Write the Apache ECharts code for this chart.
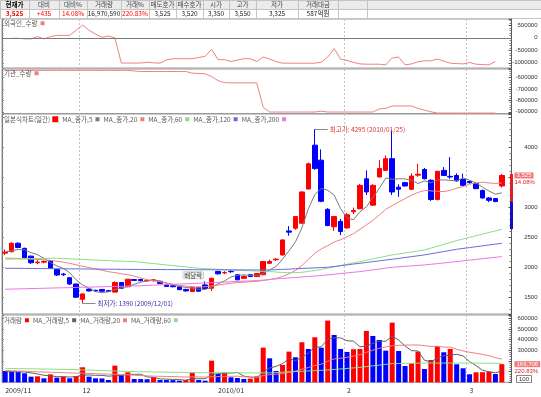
<!DOCTYPE html>
<html><head><meta charset="utf-8">
<script src="https://cdn.jsdelivr.net/npm/echarts/dist/echarts.min.js"></script>
<style>html,body{margin:0;padding:0;background:#fff}#c{width:541px;height:397px}</style>
</head><body><div id="c"></div><script>
const dates = [
'2009/11/13','2009/11/16','2009/11/17','2009/11/18','2009/11/19','2009/11/20','2009/11/23','2009/11/24','2009/11/25','2009/11/26','2009/11/27','2009/11/30',
'2009/12/01','2009/12/02','2009/12/03','2009/12/04','2009/12/07','2009/12/08','2009/12/09','2009/12/10','2009/12/11','2009/12/14','2009/12/15','2009/12/16','2009/12/17','2009/12/18','2009/12/21','2009/12/22','2009/12/23','2009/12/24','2009/12/28','2009/12/29','2009/12/30',
'2010/01/04','2010/01/05','2010/01/06','2010/01/07','2010/01/08','2010/01/11','2010/01/12','2010/01/13','2010/01/14','2010/01/15','2010/01/18','2010/01/19','2010/01/20','2010/01/21','2010/01/22','2010/01/25','2010/01/26','2010/01/27','2010/01/28','2010/01/29',
'2010/02/01','2010/02/02','2010/02/03','2010/02/04','2010/02/05','2010/02/08','2010/02/09','2010/02/10','2010/02/11','2010/02/12','2010/02/16','2010/02/17','2010/02/18','2010/02/19','2010/02/22','2010/02/23','2010/02/24','2010/02/25','2010/02/26',
'2010/03/02','2010/03/03','2010/03/04','2010/03/05','2010/03/08','2010/03/09'];

const opens = [2230,2255,2395,2310,2180,2070,2080,2105,1960,1880, 1820,1715,1460,1630,1610,1625,1605,1580,1740,1670,
 1790,1790,1765,1770,1760,1700,1685,1670,1625,1590, 1660,1700,1645,1925,1900,1925,1870,1810,1870,1840,
 1870,2060,2120,2200,2600,2645,2730,3300,4030,3780, 2960,2670,2760,2650,2920,2970,3470,3030,3500,3610,
 3805,3330,3405,3295,3530,3625,3445,3125,3610,3510, 3525,3460,3425,3390,3275,3150,3140,3350];
const highs = [2290,2410,2410,2320,2190,2115,2110,2110,1970,1900, 1830,1720,1560,1640,1620,1630,1610,1760,1745,1800,
 1800,1800,1795,1800,1765,1710,1690,1675,1635,1665, 1665,1760,1820,1935,1930,1950,1880,1860,1875,1900,
 2100,2120,2150,2460,2680,2850,3260,3740,4295,3960, 2980,2850,2800,2900,2990,3380,3610,3380,3780,3860,
 4280,3380,3420,3560,3720,3650,3460,3600,3665,3830, 3560,3555,3440,3400,3290,3160,3150,3550];
const lows = [2200,2240,2310,2140,2050,2045,2060,1970,1850,1850, 1700,1480,1390,1590,1585,1585,1580,1575,1640,1660,
 1765,1760,1755,1760,1720,1670,1660,1615,1590,1585, 1590,1630,1600,1870,1880,1900,1780,1800,1835,1835,
 1860,2050,2100,2190,2520,2620,2720,3290,3620,3080, 2680,2600,2530,2640,2880,2960,3200,3020,3490,3600,
 3200,3170,3340,3280,3500,3460,3100,3110,3520,3470, 3420,3350,3390,3300,3140,3080,3080,3325];
const closes = [2245,2395,2325,2155,2070,2080,2090,1980,1865,1870, 1715,1495,1550,1600,1600,1595,1590,1740,1645,1795,
 1775,1770,1775,1785,1725,1675,1670,1620,1600,1660, 1595,1640,1810,1885,1905,1920,1785,1840,1840,1890,
 2090,2090,2130,2450,2580,2840,3250,3720,3640,3095, 2690,2840,2590,2870,2940,3360,3250,3360,3640,3805,
 3250,3295,3350,3515,3545,3470,3125,3595,3525,3500, 3435,3360,3405,3305,3150,3110,3090,3525];

const ma5 = [2250,2270,2290,2285,2238,2205,2144,2075,2017,1977, 1904,1785,1699,1646,1592,1568,1587,1625,1654,1673,
 1709,1745,1772,1780,1766,1726,1706,1675,1658,1645, 1629,1623,1661,1718,1767,1832,1861,1867,1858,1855,
 1889,1950,2008,2130,2268,2418,2650,2968,3206,3309, 3279,3197,2971,2817,2786,2920,3002,3156,3310,3483,
 3461,3470,3468,3443,3391,3435,3401,3450,3452,3443, 3436,3483,3445,3401,3331,3266,3212,3236];
const ma20 = [2150,2145,2140,2135,2130,2125,2118,2110,2095,2080, 2060,2035,2010,1990,1965,1945,1920,1905,1885,1870,
 1847,1815,1788,1769,1752,1732,1711,1693,1680,1669, 1663,1670,1683,1698,1713,1729,1739,1744,1754,1758,
 1774,1790,1808,1841,1884,1942,2021,2126,2228,2300, 2355,2415,2454,2503,2555,2627,2700,2776,2866,2962,
 3020,3080,3141,3194,3242,3274,3268,3261,3256,3276, 3313,3339,3380,3402,3412,3400,3392,3399];
const ma60 = [2128,2130,2133,2135,2138,2140,2142,2143,2144,2140, 2135,2130,2125,2120,2115,2110,2105,2100,2096,2092,
 2089,2078,2067,2056,2045,2033,2022,2011,2000,1989, 1978,1972,1967,1961,1956,1950,1945,1940,1935,1930,
 1926,1922,1915,1908,1905,1905,1910,1925,1940,1958, 1978,2000,2022,2044,2066,2089,2111,2133,2155,2178,
 2200,2216,2233,2250,2266,2283,2314,2345,2376,2408, 2439,2466,2493,2520,2547,2574,2601,2628];
const ma120 = [1978,1977,1976,1975,1974,1973,1972,1971,1970,1969, 1968,1967,1966,1965,1964,1963,1962,1961,1960,1959,
 1958,1958,1957,1957,1956,1956,1955,1955,1954,1954, 1953,1953,1952,1952,1951,1951,1950,1950,1950,1950,
 1950,1950,1954,1959,1964,1969,1974,1979,1984,1989, 1994,2007,2021,2034,2048,2061,2074,2088,2101,2115,
 2128,2142,2157,2171,2186,2200,2219,2238,2256,2275, 2294,2308,2323,2337,2351,2366,2380,2394];
const ma200 = [1628,1631,1633,1636,1639,1641,1644,1647,1650,1652, 1655,1658,1661,1663,1666,1669,1672,1674,1677,1680,
 1683,1687,1692,1696,1701,1705,1710,1714,1719,1723, 1728,1733,1738,1743,1748,1753,1758,1763,1768,1773,
 1780,1790,1800,1808,1816,1824,1832,1840,1848,1857, 1867,1878,1889,1900,1911,1922,1936,1951,1965,1980,
 1994,2002,2010,2018,2026,2033,2044,2055,2066,2078, 2089,2101,2113,2125,2137,2149,2160,2172];

// volume in units of 100 shares
const volumes = [105900,99600,98000,84300,52800,56000,37200,74700,43400,52800, 37200,59000,140600,52800,37200,36000,21600,155900,68400,93400,
 31000,30000,29000,46800,21600,21000,20500,15300,21600,90300, 21600,15000,202700,77800,93400,46800,40600,31000,34000,56000,
 324600,224600,105900,162100,287100,234300,374900,312100,421500,324600, 577600,443300,312100,284000,309300,312100,480800,433900,396400,296400,
 558800,293300,152800,178100,287100,124600,209000,340200,281200,312100, 168700,131200,75000,93700,94500,99600,76848,169705.9];
const volMa5 = [100000,99000,98000,96000,88120,78140,65660,61000,52820,52820, 49060,53420,66600,68480,65360,65120,57640,60700,63820,75060,
 74060,75740,50360,46040,31680,29680,27780,25040,20000,33740, 33860,32760,70240,81480,82100,87140,92260,57920,49160,41680,
 97240,134040,149020,174640,220860,202800,232860,274100,325980,333480, 402140,415820,415820,388320,385260,332160,339660,364020,386500,383920,
 433260,395760,339540,295880,294020,207180,190320,227800,248420,253420, 262240,246680,193640,156140,112620,98800,87930,106871];
const volMa20 = [110000,108000,106000,104000,101000,98000,96000,94000,92000,90000, 88000,86000,85000,83000,80000,78000,76000,75000,72000,70340,
 66595,63115,59665,57790,56230,54480,53645,50675,49585,51460, 50680,48480,51585,52835,55645,56185,57135,50890,49170,47300,
 61980,71710,75555,81320,94595,105260,122980,137820,157815,169530, 197330,218745,224215,234525,245320,258585,280595,300740,318860,330880,
 342590,346025,348370,349170,349170,343685,335390,336795,329780,329155, 308710,293105,281250,271735,260995,250370,230170,216960];
const volMa60 = [130000,129000,128000,127000,126000,125000,124000,123000,122000,121000, 120000,118000,116000,114000,112000,110000,108000,106000,104000,102000,
 100000,99000,98000,97000,96000,95000,94000,93000,92000,91000, 90000,90000,89500,89000,89000,88500,88500,88000,88000,88000,
 88000,88000,91000,94000,97000,100000,103000,106000,109000,112000, 115000,120000,125000,130000,135000,140000,147000,154000,161000,168000,
 175000,176000,177000,178000,179000,180000,180000,180000,180000,180000, 180000,180000,180000,180000,179000,179000,178000,178000];

const foreign = [null,-20000,-20000,-40000,-45000,50000,-45000,50000,95000,95000,
 100000,300000,510000,300000,150000,20000,70000,0,-1010000,-1010000,
 -1010000,-1010000,-975000,-1000000,-1015000,-880000,-840000,-835000,-835000,-835000,
 -790000,-740000,-460000,-875000,-876000,-948000,-890000,-836000,-836000,-948000,
 -768000,-850000,-950000,-1016000,-1016000,-1016000,-1016000,-1016000,-1016000,-976000,
 -770000,-432000,-850000,-904000,-980000,-1044000,-1056000,-1056000,-1056000,-1084000,
 -808000,-768000,-1084000,-1044000,-960000,-920000,-920000,-848000,-930000,-1016000,
 -1030000,-1044000,-988000,-1056000,-1070000,-1084000,-948000,null];
const inst = [-535000,-535000,-535000,-535000,-535000,-535000,-535000,-535000,-535000,-535000,
 -535000,-535000,-535000,-535000,-535000,-535000,-535000,-535000,-535000,-535000,
 -540000,-545000,-545000,-545000,-545000,-545000,-545000,-545000,-545000,-560000,
 -562000,-565000,-590000,-625000,-643000,-645000,-645000,-645000,-645000,-645000,
 -860000,-902000,-902000,-902000,-902000,-902000,-902000,-902000,-902000,-895000,
 -902000,-902000,-902000,-902000,-902000,-902000,-902000,-902000,-875000,-870000,
 -849000,-849000,-849000,-849000,-870000,-885000,-900000,-911000,-911000,-911000,
 -911000,-911000,-911000,-911000,-911000,-911000,-911000,null];

const xTickIdx = [0,12,33,53,72];
const xTickLabels = ['2009/11','12','2010/01','2','3'];
const yearIdx = 33;

const foreignTicks = [-1000000,-500000,0,500000];
const instTicks = [-900000,-800000,-700000,-600000];
const priceTicks = [1500,2000,2500,3000,4000];
const volTicks = [300000,400000,500000,600000];

const limitUp = 3550, limitDown = 2630;
const exDivIdx = 31, exDivLabel = '배당락';
const tableHeads = ['현재가','대비','대비%','거래량','거래%','매도호가','매수호가','시가','고가','저가','거래대금'];
const tableVals = ['3,525','+435','14.08%','16,970,590','220.83%','3,525','3,520','3,350','3,550','3,325','587억원'];
const volPctLabel = '220.83%';

// ---------- build ----------
const N = dates.length;
const cats = dates.concat(['']);
const monthIdx = xTickIdx.filter(i => i > 0 && i !== yearIdx);
const fmt = n => Math.round(n).toLocaleString('en-US');
const last = N - 1;
const prevClose = closes[last - 1];
const pct = ((closes[last] - prevClose) / prevClose * 100).toFixed(2) + '%';

let hiIdx = 0, loIdx = 0;
highs.forEach((h, i) => { if (h > highs[hiIdx]) hiIdx = i; });
lows.forEach((l, i) => { if (l < lows[loIdx]) loIdx = i; });

const FONT = 'Noto Sans CJK KR, DejaVu Sans, sans-serif';
const RED = '#ff0000', BLUE = '#0000ff';
const CLEAR = 'rgba(0,0,0,0)';

const grids = [
  {top: 19, height: 49, min: -1208000, max: 752000, split: 4, ticks: foreignTicks},
  {top: 69, height: 44.5, min: -915000, max: -523000, split: 4, ticks: instTicks},
  {top: 114, height: 200, min: 1215, max: 4550, split: 5, ticks: priceTicks},
  {top: 315, height: 67.3, min: 0, max: 630000, split: 5, ticks: volTicks}
];
const LEFT = 2, RIGHT = 29.5;

const gridOpt = [], xAxes = [], yAxes = [];
grids.forEach((g, gi) => {
  gridOpt.push({left: LEFT, right: RIGHT, top: g.top, height: g.height, show: true,
    borderColor: '#9a9a9a', borderWidth: 1, backgroundColor: '#fff'});
  xAxes.push({type: 'category', gridIndex: gi, data: cats, boundaryGap: true,
    axisLine: {show: false}, axisTick: {show: false},
    axisLabel: gi === 3 ? {show: true, interval: (i) => xTickIdx.indexOf(i) >= 0,
      formatter: (v, i) => xTickLabels[xTickIdx.indexOf(i)], align: 'left',
      fontSize: 7, color: '#333', margin: 5, fontFamily: FONT} : {show: false},
    splitLine: {show: true, interval: (i) => monthIdx.indexOf(i) >= 0,
      lineStyle: {color: '#c4c4c4', width: 1, type: [2, 2]}}});
  xAxes.push({type: 'category', gridIndex: gi, data: cats, boundaryGap: true,
    axisLine: {show: false}, axisTick: {show: false}, axisLabel: {show: false},
    splitLine: {show: true, interval: (i) => i === yearIdx, lineStyle: {color: '#b8b8b8', width: 1}}});
  yAxes.push({type: 'value', gridIndex: gi, position: 'right', min: g.min, max: g.max, splitNumber: g.split,
    axisLine: {show: true, lineStyle: {color: '#555'}},
    axisTick: {show: true, inside: true, length: 3, lineStyle: {color: '#555'}},
    minorTick: {show: true, splitNumber: 5, length: 2, lineStyle: {color: '#777'}},
    axisLabel: {show: true, customValues: g.ticks, align: 'right', margin: 26, fontSize: 6,
      color: '#333', fontFamily: 'Liberation Sans, DejaVu Sans, sans-serif', formatter: v => String(v)},
    splitLine: {show: false}});
  yAxes.push({type: 'value', gridIndex: gi, position: 'left', min: g.min, max: g.max, splitNumber: g.split,
    axisLine: {show: true, lineStyle: {color: '#777'}},
    axisTick: {show: true, inside: true, length: 2, lineStyle: {color: '#888'}},
    minorTick: {show: true, splitNumber: 5, length: 1.5, lineStyle: {color: '#999'}},
    axisLabel: {show: false}, splitLine: {show: false}});
});

const ohlc = opens.map((o, i) => [o, closes[i], lows[i], highs[i]]);
const volData = volumes.map((v, i) => ({value: v,
  itemStyle: {color: (i > 0 && v >= volumes[i - 1]) ? RED : BLUE}}));

const lineS = (name, data, color, xi, yi, z) => ({name, type: 'line', data, xAxisIndex: xi, yAxisIndex: yi,
  symbol: 'none', color, lineStyle: {color, width: 1}, z: z || 3, silent: true, connectNulls: false});

const flagRich = {
  a: {backgroundColor: '#f07878', color: '#fff', fontSize: 6, lineHeight: 7, padding: [0, 2], fontFamily: 'Liberation Sans, sans-serif'},
  b: {color: '#e02020', fontSize: 6, lineHeight: 7, fontFamily: 'Liberation Sans, sans-serif'}
};
const flagLabel = (txt1, txt2) => ({show: true, position: 'end', distance: 3, padding: [7, 0, 0, 0],
  formatter: '{a|' + txt1 + '}\n{b|' + txt2 + '}', rich: flagRich, color: '#e02020'});

const series = [
  Object.assign(lineS('외국인_수량', foreign, '#f08080', 0, 0), {
    markLine: {silent: true, symbol: 'none', animation: false, label: {show: false},
      lineStyle: {color: '#7a7a7a', width: 1, type: 'solid'}, data: [{yAxis: 0}]}}),
  lineS('기관_수량', inst, '#f08080', 2, 2),
  {name: '일본식차트(일간)', type: 'candlestick', data: ohlc, xAxisIndex: 4, yAxisIndex: 4, barWidth: 5,
    itemStyle: {color: RED, color0: BLUE, borderColor: RED, borderColor0: BLUE, borderWidth: 1},
    z: 2,
    markLine: {silent: true, symbol: 'none', animation: false,
      data: [
        [{coord: [hiIdx, highs[hiIdx]], lineStyle: {color: '#8a8a8a', width: 1, type: 'solid'}},
         {coord: [hiIdx + 2, highs[hiIdx]], label: {show: true, position: 'end', distance: 2,
           formatter: '최고가: ' + highs[hiIdx] + ' (' + dates[hiIdx] + ')', color: '#e03030', fontSize: 6.5, fontFamily: FONT}}],
        [{coord: [loIdx, lows[loIdx]], lineStyle: {color: '#8a8a8a', width: 1, type: 'solid'}},
         {coord: [loIdx + 2, lows[loIdx]], label: {show: true, position: 'end', distance: 2,
           formatter: '최저가: ' + lows[loIdx] + ' (' + dates[loIdx] + ')', color: '#3030b0', fontSize: 6.5, fontFamily: FONT}}],
        {yAxis: closes[last], lineStyle: {color: CLEAR, width: 1, type: 'solid'},
          label: flagLabel(fmt(closes[last]), pct)}
      ]},
    markPoint: {silent: true, animation: false,
      data: [{coord: [exDivIdx, highs[exDivIdx]], symbol: 'rect', symbolSize: 0,
        label: {show: true, position: 'left', offset: [3, -6], formatter: exDivLabel, color: '#333',
          fontSize: 6.5, fontFamily: FONT, backgroundColor: '#f4f4f4', borderColor: '#aaa', borderWidth: 0.5, padding: [0, 1]}}]}
  },
  lineS('MA_종가,5', ma5, '#7a7a7a', 4, 4, 4),
  lineS('MA_종가,20', ma20, '#f08080', 4, 4, 4),
  lineS('MA_종가,60', ma60, '#88e088', 4, 4, 4),
  lineS('MA_종가,120', ma120, '#6a6ae0', 4, 4, 4),
  lineS('MA_종가,200', ma200, '#e878e8', 4, 4, 4),
  {name: '거래량', type: 'bar', data: volData, xAxisIndex: 6, yAxisIndex: 6, barWidth: 5, color: RED,
    itemStyle: {color: RED}, z: 2, silent: true,
    markLine: {silent: true, symbol: 'none', animation: false,
      data: [{yAxis: volumes[last], lineStyle: {color: CLEAR, width: 1, type: 'solid'},
        label: flagLabel(fmt(volumes[last]), volPctLabel)}]}},
  lineS('MA_거래량,5', volMa5, '#606060', 6, 6, 4),
  lineS('MA_거래량,20', volMa20, '#f08080', 6, 6, 4),
  lineS('MA_거래량,60', volMa60, '#88e088', 6, 6, 4)
];

const legendBase = {orient: 'horizontal', align: 'right', icon: 'rect', itemWidth: 4, itemHeight: 4,
  itemGap: 4, padding: 0, selectedMode: false, left: 4,
  textStyle: {fontSize: 6.5, color: '#555', fontFamily: FONT, padding: [0, -2, 0, 0]}};
const legends = [
  Object.assign({}, legendBase, {top: 20, data: ['외국인_수량']}),
  Object.assign({}, legendBase, {top: 70, data: ['기관_수량']}),
  Object.assign({}, legendBase, {top: 116, data: ['일본식차트(일간)', 'MA_종가,5', 'MA_종가,20', 'MA_종가,60', 'MA_종가,120', 'MA_종가,200']}),
  Object.assign({}, legendBase, {top: 317, data: ['거래량', 'MA_거래량,5', 'MA_거래량,20', 'MA_거래량,60']})
];

// table (layout)
const colEdges = [0, 29, 59, 87, 121, 149, 176, 203, 229, 256, 298, 338, 367, 541];
const ROW = [0, 9, 18];
const valColors = [RED, RED, RED, '#222', RED, '#222', '#222', '#222', '#222', '#222', '#222'];
const tableG = [];
tableG.push({type: 'rect', shape: {x: 0, y: ROW[0], width: 541, height: ROW[1]}, style: {fill: '#ebebeb'}, silent: true});
tableG.push({type: 'rect', shape: {x: 0, y: ROW[1], width: 541, height: ROW[2] - ROW[1]}, style: {fill: '#fff'}, silent: true});
[ROW[0] + 0.5, ROW[1] + 0.5, ROW[2] + 0.5].forEach(y => tableG.push({type: 'line', shape: {x1: 0, y1: y, x2: 541, y2: y},
  style: {stroke: '#c4c4c4', lineWidth: 1}, silent: true}));
colEdges.forEach(x => tableG.push({type: 'line', shape: {x1: x + 0.5, y1: 0, x2: x + 0.5, y2: ROW[2]},
  style: {stroke: '#c4c4c4', lineWidth: 1}, silent: true}));
tableHeads.forEach((h, i) => {
  const cx = (colEdges[i] + colEdges[i + 1]) / 2;
  tableG.push({type: 'text', x: cx, y: (ROW[0] + ROW[1]) / 2 + 0.5, silent: true,
    style: {text: h, align: 'center', verticalAlign: 'middle', fill: i === 0 ? '#000' : '#444',
      font: (i === 0 ? 'bold ' : '') + '6.5px ' + FONT}});
  tableG.push({type: 'text', x: cx, y: (ROW[1] + ROW[2]) / 2 + 0.5, silent: true,
    style: {text: tableVals[i], align: 'center', verticalAlign: 'middle', fill: valColors[i],
      font: (i === 0 ? 'bold ' : '') + '6.5px ' + FONT}});
});
tableG.push({type: 'text', x: 517, y: 376, silent: true,
  style: {text: '100', fill: '#333', font: '6px Liberation Sans, sans-serif', borderColor: '#666', borderWidth: 0.8, padding: [0, 2], backgroundColor: '#fff'}});

const chart = echarts.init(document.getElementById('c'), null, {renderer: 'canvas', width: 541, height: 397});
chart.setOption({
  animation: false,
  backgroundColor: '#fff',
  textStyle: {fontFamily: FONT},
  grid: gridOpt, xAxis: xAxes, yAxis: yAxes, legend: legends, series: series,
  graphic: {elements: tableG}
});

// price-limit bar on the price axis (data -> pixel through the chart's own scale)
const yUp = chart.convertToPixel({yAxisIndex: 4}, limitUp);
const yPrev = chart.convertToPixel({yAxisIndex: 4}, prevClose);
const yDn = chart.convertToPixel({yAxisIndex: 4}, limitDown);
const axisX = 541 - RIGHT;
chart.setOption({graphic: {elements: tableG.concat([
  {type: 'rect', shape: {x: axisX - 1.5, y: yUp, width: 3, height: yPrev - yUp}, style: {fill: '#e02020'}, silent: true, z: 100},
  {type: 'rect', shape: {x: axisX - 1.5, y: yPrev, width: 3, height: yDn - yPrev}, style: {fill: '#1010c0'}, silent: true, z: 100}
])}});
</script></body></html>
